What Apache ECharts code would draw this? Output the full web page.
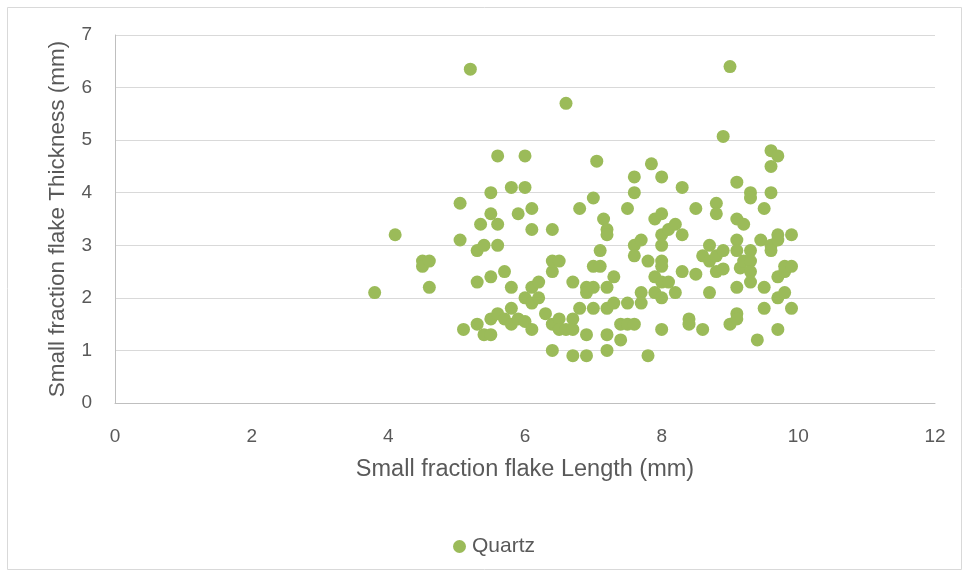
<!DOCTYPE html>
<html><head><meta charset="utf-8">
<script src="https://cdn.jsdelivr.net/npm/echarts@6/dist/echarts.min.js"></script>
<style>html,body{margin:0;padding:0;background:#fff}#c{width:969px;height:578px}</style>
</head><body><div id="c"></div>
<script>
const seriesName = "Quartz";
const xTitle = "Small fraction flake Length (mm)";
const yTitle = "Small fraction flake Thickness (mm)";
const lengths = [3.8,4.1,4.5,4.5,4.6,4.6,5.05,5.05,5.2,5.1,5.3,5.3,5.3,5.35,5.4,5.4,5.5,5.5,5.5,5.5,5.5,5.6,5.6,5.6,5.6,5.7,5.7,5.8,5.8,5.8,5.8,5.9,5.9,6.0,6.0,6.0,6.0,6.1,6.1,6.1,6.1,6.1,6.2,6.2,6.3,6.4,6.4,6.4,6.4,6.4,6.5,6.5,6.5,6.6,6.6,6.7,6.7,6.7,6.7,6.8,6.8,6.9,6.9,6.9,6.9,7.0,7.0,7.0,7.0,7.05,7.1,7.1,7.15,7.2,7.2,7.2,7.2,7.2,7.2,7.3,7.3,7.4,7.4,7.5,7.5,7.5,7.6,7.6,7.6,7.6,7.6,7.7,7.7,7.7,7.8,7.8,7.85,7.9,7.9,7.9,8.0,8.0,8.0,8.0,8.0,8.0,8.0,8.0,8.0,8.1,8.1,8.2,8.2,8.3,8.3,8.3,8.4,8.4,8.5,8.5,8.6,8.6,8.7,8.7,8.7,8.8,8.8,8.8,8.8,8.9,8.9,8.9,9.0,9.0,9.1,9.1,9.1,9.1,9.1,9.1,9.1,9.15,9.2,9.2,9.3,9.3,9.3,9.3,9.3,9.3,9.4,9.45,9.5,9.5,9.5,9.6,9.6,9.6,9.6,9.6,9.7,9.7,9.7,9.7,9.7,9.7,9.8,9.8,9.8,9.9,9.9,9.9];
const thickness = [2.1,3.2,2.7,2.6,2.7,2.2,3.1,3.8,6.35,1.4,1.5,2.3,2.9,3.4,3.0,1.3,4.0,3.6,2.4,1.6,1.3,4.7,3.0,3.4,1.7,2.5,1.6,4.1,2.2,1.8,1.5,3.6,1.6,4.7,4.1,2.0,1.55,3.7,3.3,2.2,1.9,1.4,2.3,2.0,1.7,3.3,2.5,2.7,1.0,1.5,2.7,1.6,1.4,5.7,1.4,0.9,1.6,1.4,2.3,3.7,1.8,0.9,1.3,2.2,2.1,3.9,2.6,2.2,1.8,4.6,2.9,2.6,3.5,3.3,3.2,2.2,1.8,1.3,1.0,2.4,1.9,1.5,1.2,3.7,1.9,1.5,4.3,4.0,3.0,2.8,1.5,3.1,2.1,1.9,0.9,2.7,4.55,3.5,2.4,2.1,4.3,3.6,3.2,3.0,2.7,2.6,2.3,2.0,1.4,3.3,2.3,3.4,2.1,4.1,3.2,2.5,1.6,1.5,3.7,2.45,1.4,2.8,3.0,2.7,2.1,2.8,3.8,3.6,2.5,5.07,2.9,2.55,6.4,1.5,4.2,3.5,3.1,2.9,2.2,1.7,1.6,2.57,3.4,2.7,4.0,3.9,2.9,2.7,2.5,2.3,1.2,3.1,3.7,1.8,2.2,4.8,4.5,4.0,3.0,2.9,4.7,3.2,3.1,2.4,2.0,1.4,2.5,2.6,2.1,3.2,2.6,1.8];
const points = lengths.map((x, i) => [x, thickness[i]]);

const font = "Liberation Sans";
const chart = echarts.init(document.getElementById('c'), null, {renderer: 'canvas'});
chart.setOption({
  animation: false,
  backgroundColor: '#fff',
  textStyle: {fontFamily: font},
  grid: {left: 115, top: 35, right: 34, bottom: 175, containLabel: false},
  graphic: [{type: 'rect', shape: {x: 7.5, y: 7.5, width: 954, height: 562}, style: {fill: 'none', stroke: '#d9d9d9', lineWidth: 1}, silent: true}],
  legend: {
    data: [seriesName], top: 531, left: 448, icon: 'circle', itemWidth: 13, itemHeight: 13, itemGap: 6,
    textStyle: {color: '#595959', fontSize: 21, fontFamily: font, padding: [0, 0, 0, 1]}
  },
  xAxis: {
    type: 'value', min: 0, max: 12, interval: 2,
    name: xTitle, nameLocation: 'middle', nameGap: 55,
    nameTextStyle: {color: '#595959', fontSize: 23.5, fontFamily: font},
    axisLine: {show: true, lineStyle: {color: '#bfbfbf'}},
    axisTick: {show: false},
    axisLabel: {color: '#595959', fontSize: 19, margin: 24, fontFamily: font},
    splitLine: {show: false}
  },
  yAxis: {
    type: 'value', min: 0, max: 7, interval: 1,
    name: yTitle, nameLocation: 'middle', nameGap: 46,
    nameTextStyle: {color: '#595959', fontSize: 22.5, fontFamily: font},
    axisLine: {show: true, lineStyle: {color: '#bfbfbf'}},
    axisTick: {show: false},
    axisLabel: {color: '#595959', fontSize: 19, margin: 23, fontFamily: font},
    splitLine: {show: true, lineStyle: {color: '#d9d9d9', width: 1}}
  },
  series: [{
    name: seriesName, type: 'scatter', data: points, symbolSize: 13,
    itemStyle: {color: '#9bbb59', opacity: 1}
  }]
});
</script></body></html>
